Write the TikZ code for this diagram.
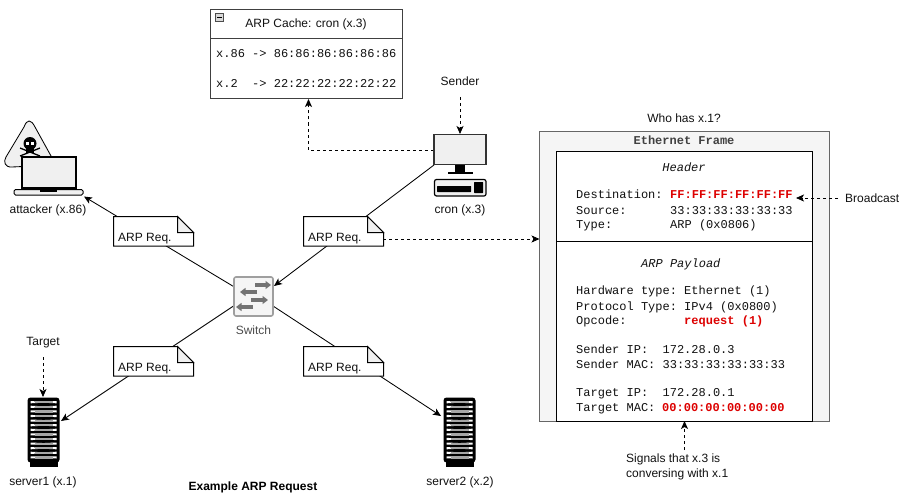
\documentclass[tikz,border=0pt]{standalone}
\usepackage{fontspec}
\setmainfont{Liberation Sans}
\setmonofont{Liberation Mono}
\usetikzlibrary{arrows.meta}
\definecolor{iconfill}{HTML}{F0F0F0}
\definecolor{framefill}{HTML}{F5F5F5}
\definecolor{framedraw}{HTML}{666666}
\definecolor{alert}{HTML}{DD0000}
\definecolor{txt}{HTML}{111111}
\tikzset{
  x=1pt,y=-1pt,
  >={Stealth[length=8pt,width=7pt,inset=2pt]},
  conn/.style={draw=black,line width=0.85pt,->},
  dconn/.style={conn,dash pattern=on 3pt off 3pt},
  lbl/.style={font=\fontsize{12}{14}\selectfont,text=txt,inner sep=0pt,anchor=base},
  lblw/.style={lbl,anchor=base west},
  mono/.style={font=\fontsize{12}{14}\ttfamily\selectfont,text=txt,inner sep=0pt,anchor=base west},
  hot/.style={mono,font=\fontsize{12}{14}\ttfamily\bfseries\selectfont,text=alert},
  plainbox/.style={draw=black,line width=1pt,fill=white},
  notelbl/.style={lbl,anchor=base west},
  anchorpt/.style={inner sep=0pt,minimum size=0pt},
  swarrow/.style={draw=black!55,line width=3.2pt,-{Triangle[length=5.5pt,width=8pt]}},
  notepic/.pic={
    \draw[plainbox] (0,0) -- (64,0) -- (80,16) -- (80,29.5) -- (0,29.5) -- cycle;
    \draw[draw=black,line width=1pt,fill=iconfill] (64,0) -- (64,16) -- (80,16) -- cycle;
  },
  serverpic/.pic={
    \fill[black] (2,62) rectangle (30,69);
    \fill[black,rounded corners=3pt] (0,0) rectangle (32,65);
    \foreach \i in {0,...,12}{
      \fill[white] (3,3.6+4.6*\i) -- (29,4.7+4.6*\i) -- (3,5.8+4.6*\i) -- cycle;
      \fill[white] (29,3.6+4.6*\i) -- (3,4.7+4.6*\i) -- (29,5.8+4.6*\i) -- cycle;
      \fill[gray!70] (7,3.6+4.6*\i) rectangle (25,5.8+4.6*\i);
    }
  }
}
\begin{document}
\begin{tikzpicture}
\useasboundingbox (0,0) rectangle (904,500);
% named icons
\node[anchorpt] (sw) at (253.5,296.5) {};
\node[anchorpt] (attacker) at (48,175) {};
\node[anchorpt] (cron) at (460,165) {};
\node[anchorpt] (srv1) at (44,430) {};
\node[anchorpt] (srv2) at (460,430) {};
\coordinate (swNW) at (233.5,286.5);
\coordinate (swNE) at (274,286);
\coordinate (swSW) at (233.5,306);
\coordinate (swSE) at (273,306);
\coordinate (attIn) at (84,196.5);
\coordinate (cronOut) at (434,165);
\coordinate (cronL) at (433.5,150.5);
\coordinate (cronT) at (460,134);
\coordinate (srv1In) at (61,421);
\coordinate (srv1T) at (43,397);
\coordinate (srv2In) at (441,416);
\coordinate (senderB) at (460,97);
\coordinate (targetB) at (43,357);
\coordinate (cacheB) at (308.5,99);
\coordinate (frameW) at (539.5,239);
\coordinate (noteE) at (383,239);
\coordinate (broadE) at (838,198);
\coordinate (broadW) at (796,198);
\coordinate (sigT) at (684.5,450);
\coordinate (sigB) at (684.5,421);
% connectors beneath notes
\draw[conn] (swNW) -- (attIn);
\draw[conn] (cronOut) -- (swNE);
\draw[conn] (swSW) -- (srv1In);
\draw[conn] (swSE) -- (srv2In);
\draw[dconn] (cronL) -- (cacheB |- cronL) -- (cacheB);
\draw[dconn] (senderB) -- (cronT);
\draw[dconn] (targetB) -- (srv1T);
% notes
\pic at (113.5,216.5) {notepic};
\pic at (303.5,216.5) {notepic};
\pic at (113.5,346.5) {notepic};
\pic at (303.5,346.5) {notepic};
\node[notelbl] (n1) at (118,241) {ARP Req.};
\node[notelbl] (n2) at (308,241) {ARP Req.};
\node[notelbl] (n3) at (118,371) {ARP Req.};
\node[notelbl] (n4) at (308,371) {ARP Req.};
\draw[dconn] (noteE) -- (frameW);
% attacker icon
\draw[draw=black,line width=0.85pt,fill=iconfill] (24,127) .. controls (27,119) and (31,119) .. (35,127) -- (56,165) -- (12,167) .. controls (5,167.5) and (3,162) .. (6,157) -- cycle;
\fill[black] (30,143.5) circle (6.5);
\fill[black] (26,147) rectangle (34,153);
\fill[white] (26,142) rectangle (29,145);
\fill[white] (31,142) rectangle (34,145);
\draw[black,line width=1.3pt] (20,148) -- (40,156) (40,148) -- (20,156);
\draw[draw=black,line width=2pt,fill=iconfill] (21.5,157) rectangle (75.5,188);
\draw[draw=black,line width=1pt,fill=iconfill,rounded corners=1.5pt] (14,189.5) rectangle (83,195);
\fill[black] (21,187) rectangle (76,190);
\fill[black] (40,189) rectangle (57,191.5);
\node[lbl] (attlbl) at (48,213) {attacker (x.86)};
% cron icon
\draw[draw=black!80,line width=1.2pt,fill=iconfill] (434,134.5) rectangle (486,164.5);
\fill[black] (455,165) rectangle (465,172);
\fill[black] (448,172) rectangle (473,174);
\draw[draw=black,line width=1.2pt,fill=iconfill,rounded corners=2pt] (434.5,179.5) rectangle (486,196);
\fill[black,rounded corners=0.5pt] (437,186) rectangle (471,192);
\fill[black,rounded corners=0.5pt] (474,182) rectangle (483,193);
\node[lbl] at (460,213) {cron (x.3)};
\node[lbl] at (460,85.5) {Sender};
% switch icon
\draw[draw=gray!75,line width=1.6pt,fill=framefill,rounded corners=2pt] (234,277) rectangle (273,316);
\draw[swarrow] (255,285) -- (271,285);
\draw[swarrow] (257,292) -- (240,292);
\draw[swarrow] (251,300) -- (268,300);
\draw[swarrow] (253,307) -- (236,307);
\node[lbl,text=black!70] at (253.5,334) {Switch};
% servers
\pic at (27.5,397.5) {serverpic};
\pic at (443.5,397.5) {serverpic};
\node[lbl] at (43,485) {server1 (x.1)};
\node[lbl] at (460,485) {server2 (x.2)};
\node[lbl] at (43,345) {Target};
% title
\node[lbl,font=\fontsize{12}{14}\bfseries\selectfont,text=black] at (253,490) {Example ARP Request};
% cache
\draw[draw=black!75,line width=1pt,fill=white] (210.5,9.5) rectangle (402.5,99);
\draw[draw=black!75,line width=1pt] (210.5,39) -- (402.5,39);
\draw[draw=black!70,line width=0.8pt,fill=gray!30] (215.5,13.5) rectangle (223.5,21.5);
\draw[black,line width=0.8pt] (217,17.5) -- (222,17.5);
\node[lbl] at (306,28) {ARP Cache: cron (x.3)};
\node[mono] at (216,57.5) {x.86 -> 86:86:86:86:86:86};
\node[mono] at (216,87.5) {x.2\ \ -> 22:22:22:22:22:22};
% frame
\node[lbl] at (684,122) {Who has x.1?};
\draw[draw=framedraw,line width=1pt,fill=framefill] (539.5,131.5) rectangle (829.5,421.5);
\node[mono,anchor=base,font=\fontsize{12}{14}\ttfamily\bfseries\selectfont,text=black!75] at (684,144.5) {Ethernet Frame};
\draw[plainbox] (556,151.5) rectangle (812.5,421.5);
\draw[black,line width=1pt] (556,241.5) -- (812.5,241.5);
\node[mono,anchor=base,font=\fontsize{12}{14}\ttfamily\itshape\selectfont] at (684,171.5) {Header};
\node[mono] at (576,198.5) {Destination:};
\node[hot] at (670,198.5) {FF:FF:FF:FF:FF:FF};
\node[mono] at (576,214.5) {Source:};
\node[mono] at (670,214.5) {33:33:33:33:33:33};
\node[mono] at (576,228.5) {Type:};
\node[mono] at (670,228.5) {ARP (0x0806)};
\node[mono,font=\fontsize{12}{14}\ttfamily\itshape\selectfont] at (641,267.5) {ARP Payload};
\node[mono] at (576,294.5) {Hardware type: Ethernet (1)};
\node[mono] at (576,310.5) {Protocol Type: IPv4 (0x0800)};
\node[mono] at (576,324.5) {Opcode:};
\node[hot] at (684,324.5) {request (1)};
\node[mono] at (576,353) {Sender IP:\ \ 172.28.0.3};
\node[mono] at (576,368) {Sender MAC: 33:33:33:33:33:33};
\node[mono] at (576,396) {Target IP:\ \ 172.28.0.1};
\node[mono] at (576,411) {Target MAC:};
\node[hot] at (662,411) {00:00:00:00:00:00};
\draw[dconn] (broadE) -- (broadW);
\draw[dconn] (sigT) -- (sigB);
\node[lblw] at (845,202) {Broadcast};
\node[lblw] at (626,462) {Signals that x.3 is};
\node[lblw] at (626,477) {conversing with x.1};
\end{tikzpicture}
\end{document}
